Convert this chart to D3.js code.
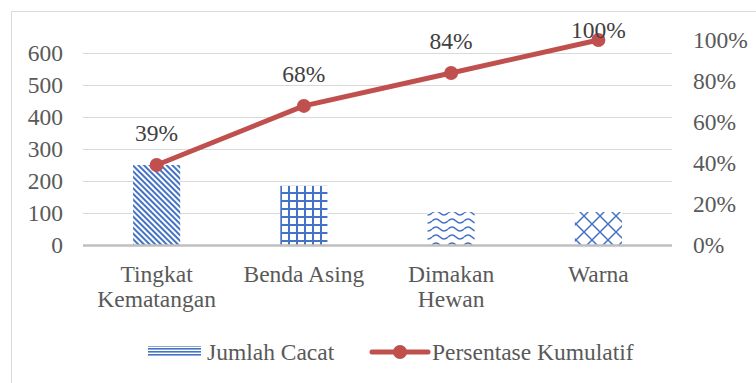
<!DOCTYPE html>
<html>
<head>
<meta charset="utf-8">
<script src="https://cdn.jsdelivr.net/npm/d3@7"></script>
<style>
  html, body { margin: 0; padding: 0; background: #fff; }
  svg { display: block; }
</style>
</head>
<body>
<svg id="chart" width="756" height="383"></svg>
<script>
// Pareto data: defect counts per cause
const categories = [["Tingkat", "Kematangan"], ["Benda Asing"], ["Dimakan", "Hewan"], ["Warna"]];
const jumlahCacat = [250, 185, 103, 103];
const leftTicks = [0, 100, 200, 300, 400, 500, 600];
const rightTicks = [0, 0.2, 0.4, 0.6, 0.8, 1.0];
const seriesNames = ["Jumlah Cacat", "Persentase Kumulatif"];

const total = d3.sum(jumlahCacat);
const kumulatif = d3.cumsum(jumlahCacat).map(v => v / total);

const blue = "#4472C4";
const red = "#C0504D";
const textColor = "#595959";
const fontSize = 23.5;
const serif = "Liberation Serif";

const svg = d3.select("#chart").attr("font-family", serif);
const defs = svg.append("defs");

// Fill patterns for the bars
function pattern(id, w, h, draw, transform) {
  const p = defs.append("pattern")
    .attr("id", id).attr("patternUnits", "userSpaceOnUse")
    .attr("width", w).attr("height", h);
  if (transform) p.attr("patternTransform", transform);
  p.append("rect").attr("width", w).attr("height", h).attr("fill", "#fff");
  draw(p);
}
pattern("p-diag", 4, 4, p => p.append("rect").attr("x", 0).attr("y", 0).attr("width", 2).attr("height", 4).attr("fill", blue), "rotate(-45)");
pattern("p-grid", 8, 8, p => {
  p.append("rect").attr("x", 0).attr("y", 0).attr("width", 8).attr("height", 2).attr("fill", blue);
  p.append("rect").attr("x", 0).attr("y", 0).attr("width", 2).attr("height", 8).attr("fill", blue);
});
pattern("p-wave", 16, 8, p => p.append("path")
  .attr("d", "M0,5 Q4,1 8,5 T16,5")
  .attr("fill", "none").attr("stroke", blue).attr("stroke-width", 1.6));
pattern("p-lattice", 16, 16, p => p.append("path")
  .attr("d", "M0,0 L16,16 M16,0 L0,16")
  .attr("fill", "none").attr("stroke", blue).attr("stroke-width", 1.5));
pattern("p-horiz", 4, 3, p => p.append("rect").attr("x", 0).attr("y", 0).attr("width", 4).attr("height", 1.6).attr("fill", blue));
const barFills = ["url(#p-diag)", "url(#p-grid)", "url(#p-wave)", "url(#p-lattice)"];

// Chart area border
svg.append("rect").attr("x", 11.5).attr("y", 11.5).attr("width", 800).attr("height", 400)
  .attr("fill", "none").attr("stroke", "#D9D9D9");

const plot = { left: 83, right: 672, top: 40, bottom: 245 };

const x = d3.scaleBand().domain(d3.range(categories.length))
  .range([plot.left, plot.right]).paddingInner(0.68).paddingOuter(0.34);
const yL = d3.scaleLinear().domain([0, total]).range([plot.bottom, plot.top]);
const yR = d3.scaleLinear().domain([0, 1]).range([plot.bottom, plot.top]);

// Gridlines
svg.append("g").selectAll("line").data(leftTicks.filter(t => t > 0)).join("line")
  .attr("x1", plot.left).attr("x2", plot.right)
  .attr("y1", d => Math.round(yL(d)) + 0.5).attr("y2", d => Math.round(yL(d)) + 0.5)
  .attr("stroke", "#D9D9D9").attr("stroke-width", 1);

function styleAxis(g) {
  g.attr("font-family", serif).attr("font-size", fontSize);
  g.select(".domain").remove();
  g.selectAll("text").attr("font-family", serif).attr("fill", textColor).attr("dy", "0.33em");
}

// Left axis labels
const axisL = d3.axisLeft(yL).tickValues(leftTicks).tickSize(0).tickPadding(0);
svg.append("g").attr("transform", "translate(63,0)").call(axisL).call(styleAxis);

// Right axis labels
const axisR = d3.axisRight(yR).tickValues(rightTicks).tickSize(0).tickPadding(0).tickFormat(d3.format(".0%"));
svg.append("g").attr("transform", "translate(693,0)").call(axisR).call(styleAxis);

// Bars
svg.append("g").selectAll("rect").data(jumlahCacat).join("rect")
  .attr("x", (d, i) => x(i)).attr("width", x.bandwidth())
  .attr("y", d => yL(d)).attr("height", d => yL(0) - yL(d))
  .attr("fill", (d, i) => barFills[i]);

// Category axis line
svg.append("line").attr("x1", plot.left).attr("x2", plot.right)
  .attr("y1", plot.bottom + 0.5).attr("y2", plot.bottom + 0.5)
  .attr("stroke", "#BFBFBF").attr("stroke-width", 2.5);

// Category labels
const cx = i => x(i) + x.bandwidth() / 2;
const catG = svg.append("g").selectAll("text").data(categories).join("text")
  .attr("x", (d, i) => cx(i)).attr("y", 282)
  .attr("font-family", serif)
  .attr("text-anchor", "middle").attr("font-size", fontSize).attr("fill", textColor);
catG.selectAll("tspan").data(d => d).join("tspan")
  .attr("x", function () { return d3.select(this.parentNode).attr("x"); })
  .attr("dy", (d, j) => j === 0 ? 0 : 25)
  .text(d => d);

// Cumulative percentage line
const line = d3.line().x((d, i) => cx(i)).y(d => yR(d));
svg.append("path").datum(kumulatif).attr("d", line)
  .attr("fill", "none").attr("stroke", red).attr("stroke-width", 5).attr("stroke-linejoin", "round");
svg.append("g").selectAll("circle").data(kumulatif).join("circle")
  .attr("cx", (d, i) => cx(i)).attr("cy", d => yR(d)).attr("r", 7).attr("fill", red);

// Data labels above points, kept inside the chart area
svg.append("g").selectAll("text").data(kumulatif).join("text")
  .attr("x", (d, i) => cx(i)).attr("y", d => Math.max(yR(d) - 24, 38))
  .attr("font-family", serif)
  .attr("text-anchor", "middle").attr("font-size", fontSize)
  .attr("fill", "#404040")
  .text(d => d3.format(".0%")(d));

// Legend
const lg = svg.append("g").attr("font-size", fontSize).attr("fill", textColor).attr("font-family", serif);
lg.append("rect").attr("x", 148).attr("y", 346).attr("width", 53).attr("height", 11).attr("fill", "url(#p-horiz)");
lg.append("text").attr("x", 207).attr("y", 360).attr("font-family", serif).text(seriesNames[0]);
lg.append("line").attr("x1", 372).attr("x2", 428).attr("y1", 352).attr("y2", 352)
  .attr("stroke", red).attr("stroke-width", 5).attr("stroke-linecap", "round");
lg.append("circle").attr("cx", 400).attr("cy", 352).attr("r", 7).attr("fill", red);
lg.append("text").attr("x", 432).attr("y", 360).attr("font-family", serif).text(seriesNames[1]);
</script>
</body>
</html>
